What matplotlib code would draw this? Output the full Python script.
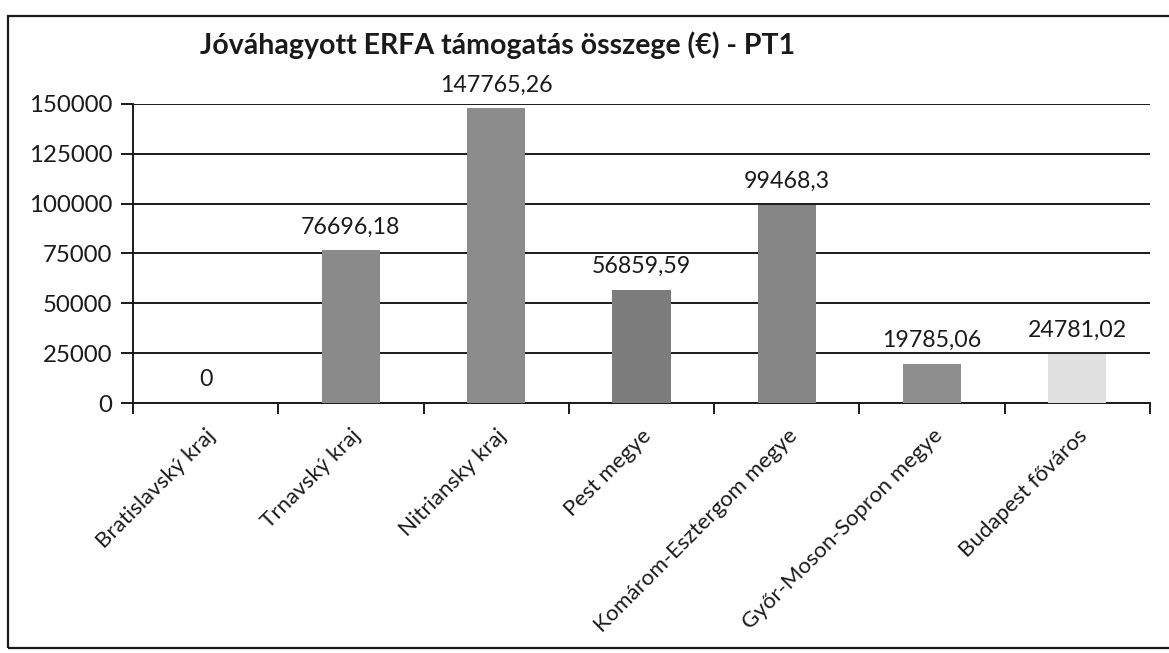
import numpy as np
import matplotlib
matplotlib.use("Agg")
import matplotlib.pyplot as plt
from matplotlib.patches import Rectangle

plt.rcParams['font.family'] = ['Lato', 'DejaVu Sans']

# Adatok
regiok = ['Bratislavský kraj', 'Trnavský kraj', 'Nitriansky kraj', 'Pest megye',
          'Komárom-Esztergom megye', 'Győr-Moson-Sopron megye', 'Budapest főváros']
osszegek = [0, 76696.18, 147765.26, 56859.59, 99468.3, 19785.06, 24781.02]
cimkek = ['0', '76696,18', '147765,26', '56859,59', '99468,3', '19785,06', '24781,02']
szinek = ['#8a8a8a', '#8a8a8a', '#8c8c8c', '#7c7c7c', '#858585', '#8e8e8e', '#e0e0e0']
y_tickek = [0, 25000, 50000, 75000, 100000, 125000, 150000]

fig = plt.figure(figsize=(11.69, 6.53), dpi=100)
ax = fig.add_axes([133 / 1169, 1 - 403 / 653, 1017 / 1169, 299 / 653])

x = np.arange(len(regiok))
oszlopok = ax.bar(x, osszegek, width=0.4, color=szinek, zorder=3)

for xi, v, c in zip(x, osszegek, cimkek):
    ax.annotate(c, (xi, v), xytext=(0, 9), textcoords='offset points',
                ha='center', va='bottom', fontsize=16.7, color='#1a1a1a',
                annotation_clip=False)

ax.set_xlim(-0.5, len(regiok) - 0.5)
ax.set_ylim(0, 150000)
ax.set_yticks(y_tickek)
ax.set_yticklabels([str(t) for t in y_tickek], fontsize=17.3, color='#1a1a1a')
ax.yaxis.grid(True, color='#1a1a1a', linewidth=1.4, zorder=0)
ax.set_axisbelow(True)

ax.set_xticks(x)
ax.set_xticklabels(regiok, rotation=45, ha='right', rotation_mode='anchor',
                   fontsize=16, color='#1a1a1a')
ax.tick_params(axis='x', which='major', length=0, pad=16)
ax.set_xticks(np.arange(-0.5, len(regiok)), minor=True)
ax.tick_params(axis='x', which='minor', length=8, width=1.4, color='#1a1a1a')
ax.tick_params(axis='y', length=9, width=1.4, color='#1a1a1a', pad=6)

for s in ['top', 'right']:
    ax.spines[s].set_visible(False)
for s in ['left', 'bottom']:
    ax.spines[s].set_color('#1a1a1a')
    ax.spines[s].set_linewidth(1.4)

fig.text(497 / 1169, 1 - 45 / 653, 'Jóváhagyott ERFA támogatás összege (€) - PT1',
         ha='center', va='center', fontsize=20.5, fontweight='bold', color='#1a1a1a')

# keret
fig.patches.append(Rectangle((8 / 1169, 1 - 648 / 653), 1.2, (648 - 16) / 653,
                             transform=fig.transFigure, fill=False,
                             edgecolor='#1a1a1a', linewidth=1.6))

fig.savefig('out.png', dpi=100)
